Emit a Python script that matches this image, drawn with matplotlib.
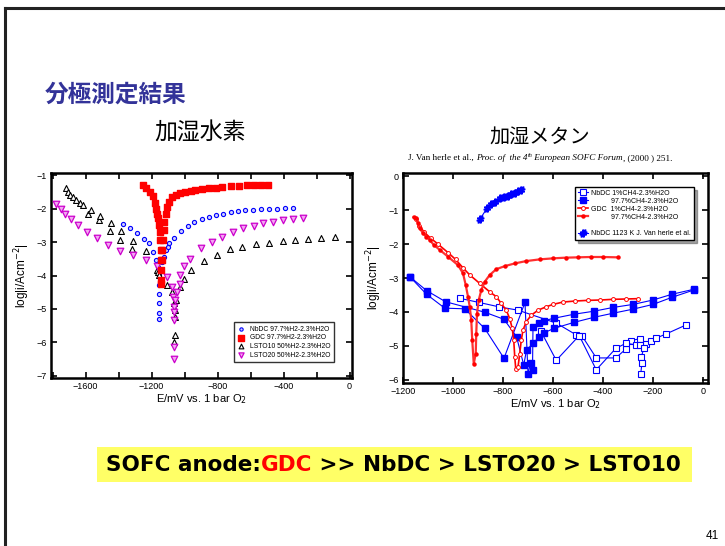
import matplotlib
matplotlib.use("Agg")
import matplotlib.pyplot as plt
from matplotlib.lines import Line2D
from matplotlib.patches import Rectangle
from matplotlib.ticker import MultipleLocator

plt.rcParams['font.family'] = ['Liberation Sans', 'DejaVu Sans']
JP = ['Noto Sans CJK JP', 'DejaVu Sans']

# ---- 加湿水素 (humidified H2) ----
nbdc_h2_x = [-1374, -1330, -1289, -1244, -1218, -1192, -1171, -1163, -1157, -1155, -1155, -1155,
             -1153, -1153, -1147, -1137, -1127, -1112, -1100, -1092, -1066, -1019, -978, -940, -897,
             -853, -808, -765, -721, -676, -631, -585, -534, -487, -441, -392, -345]
nbdc_h2_y = [-2.47, -2.59, -2.72, -2.91, -3.02, -3.29, -3.54, -3.74, -3.99, -4.29, -4.54, -4.83,
             -5.13, -5.31, -3.84, -3.59, -3.44, -3.24, -3.14, -3.04, -2.87, -2.66, -2.51, -2.39, -2.31,
             -2.25, -2.20, -2.15, -2.10, -2.08, -2.05, -2.03, -2.02, -2.01, -2.00, -1.99, -1.98]

gdc_h2_x = [-1255, -1232, -1212, -1192, -1181, -1173, -1167, -1161, -1157, -1151, -1147, -1145,
            -1143, -1143, -1143, -1145, -1139, -1137, -1131, -1127, -1123, -1115, -1106, -1096,
            -1076, -1050, -1025, -995, -964, -934, -893, -853, -812, -771, -721, -670, -619, -579,
            -538, -497]
gdc_h2_y = [-1.30, -1.38, -1.50, -1.63, -1.85, -2.00, -2.15, -2.29, -2.49, -2.69, -2.94, -3.24,
            -3.54, -3.84, -4.14, -4.24, -3.54, -3.24, -2.94, -2.64, -2.39, -2.15, -1.95, -1.80,
            -1.67, -1.60, -1.55, -1.52, -1.48, -1.45, -1.43, -1.40, -1.38, -1.36, -1.34, -1.32,
            -1.31, -1.30, -1.30, -1.30]

lsto10_x = [-1719, -1709, -1695, -1679, -1658, -1634, -1614, -1583, -1569, -1522, -1512, -1455,
            -1447, -1390, -1386, -1317, -1313, -1236, -1168, -1163, -1157, -1106, -1076, -1062,
            -1060, -1058, -1056, -1062, -1050, -1025, -1001, -961, -883, -802, -725, -650, -568,
            -487, -406, -329, -250, -173, -91]
lsto10_y = [-1.40, -1.50, -1.60, -1.65, -1.75, -1.85, -1.90, -2.15, -2.05, -2.34, -2.23, -2.66,
            -2.44, -2.94, -2.67, -3.22, -2.97, -3.26, -3.84, -3.89, -3.99, -4.29, -4.49, -4.83,
            -5.03, -5.23, -5.78, -5.98, -4.73, -4.33, -4.09, -3.84, -3.56, -3.39, -3.22, -3.14,
            -3.07, -3.02, -2.97, -2.94, -2.91, -2.89, -2.86]

lsto20_x = [-1777, -1752, -1726, -1691, -1644, -1594, -1529, -1462, -1390, -1310, -1234, -1168,
            -1106, -1076, -1070, -1066, -1066, -1066, -1066, -1062, -1056, -1046, -1029, -1025,
            -1005, -968, -903, -836, -771, -708, -644, -579, -522, -463, -402, -345, -284]
lsto20_y = [-1.87, -2.00, -2.15, -2.31, -2.49, -2.69, -2.89, -3.09, -3.26, -3.39, -3.54, -3.72,
            -4.04, -4.34, -4.64, -4.93, -5.33, -6.13, -6.50, -5.08, -4.73, -4.49, -4.24, -3.99,
            -3.72, -3.52, -3.19, -2.99, -2.84, -2.69, -2.59, -2.51, -2.44, -2.39, -2.34, -2.31,
            -2.27]

# ---- 加湿メタン (humidified CH4) ----
# NbDC 1%CH4, two sweeps
nbdc_ch4_a_x = [-973, -897, -817, -740, -587, -507, -483, -427, -349, -309, -290, -251, -229,
                -209, -189, -147, -69]
nbdc_ch4_a_y = [-3.60, -3.72, -3.85, -3.95, -4.33, -4.68, -4.72, -5.36, -5.36, -5.10, -4.85,
                -4.79, -4.95, -4.85, -4.78, -4.65, -4.39]
nbdc_ch4_b_x = [-650, -587, -495, -427, -349, -309, -269, -251, -237, -247, -244, -249]
nbdc_ch4_b_y = [-4.55, -5.43, -4.70, -5.71, -5.08, -4.93, -4.97, -4.97, -5.08, -5.34, -5.50, -5.82]

# NbDC 97.7%CH4, two sweeps
nbdc_97_a_x = [-1173, -1106, -1030, -873, -796, -746, -717, -706, -680, -656, -636, -597, -516,
               -436, -360, -280, -200, -124, -35]
nbdc_97_a_y = [-2.96, -3.37, -3.70, -4.01, -4.22, -4.73, -5.57, -5.13, -4.93, -4.75, -4.62, -4.49,
               -4.31, -4.16, -4.04, -3.92, -3.78, -3.57, -3.35]
nbdc_97_b_x = [-1173, -1106, -1033, -953, -873, -796, -712, -700, -690, -682, -680, -656, -636,
               -597, -516, -436, -360, -280, -200, -124, -35]
nbdc_97_b_y = [-2.96, -3.48, -3.89, -3.91, -4.49, -5.37, -3.72, -5.84, -5.50, -5.72, -4.44, -4.34,
               -4.26, -4.19, -4.07, -3.98, -3.87, -3.78, -3.65, -3.48, -3.33]

# GDC 1%CH4
gdc_ch4_x = [-1150, -1135, -1115, -1090, -1060, -1020, -990, -960, -933, -893, -853, -827, -807,
             -787, -773, -763, -757, -753, -749, -740, -733, -727, -720, -707, -687, -660, -627,
             -600, -560, -511, -460, -411, -360, -309, -260]
gdc_ch4_y = [-1.25, -1.45, -1.65, -1.82, -2.00, -2.25, -2.45, -2.70, -2.91, -3.16, -3.41, -3.55,
             -3.75, -3.95, -4.20, -4.49, -4.84, -5.33, -5.68, -5.63, -5.23, -4.84, -4.54, -4.29,
             -4.10, -3.95, -3.85, -3.78, -3.71, -3.68, -3.66, -3.65, -3.63, -3.62, -3.61]

# GDC 97.7%CH4
gdc_97_x = [-1158, -1147, -1140, -1133, -1120, -1107, -1093, -1077, -1053, -1020, -980, -960,
            -949, -940, -933, -927, -923, -917, -909, -907, -904, -897, -887, -873, -853, -827,
            -793, -753, -707, -653, -600, -550, -500, -450, -400, -340]
gdc_97_y = [-1.20, -1.23, -1.38, -1.53, -1.68, -1.78, -1.88, -2.02, -2.17, -2.37, -2.62, -2.86,
            -3.21, -3.55, -3.85, -4.24, -4.84, -5.53, -5.23, -4.64, -4.05, -3.65, -3.36, -3.11,
            -2.91, -2.74, -2.65, -2.57, -2.50, -2.45, -2.42, -2.40, -2.39, -2.38, -2.38, -2.39]

# NbDC 1123 K, literature
lit_x = [-891, -864, -847, -833, -811, -797, -780, -767, -753, -740, -727]
lit_y = [-1.25, -0.94, -0.81, -0.77, -0.64, -0.61, -0.57, -0.52, -0.49, -0.44, -0.39]

BLUE = '#0000ff'
RED = '#ff0000'
MAG = '#cc00cc'

fig = plt.figure(figsize=(7.25, 5.46), dpi=100)
renderer = fig.canvas.get_renderer()


def text_run(x0, y, pieces):
    """Write text pieces one after another, starting at x0 (pixels)."""
    x = x0
    for s, kw in pieces:
        t = fig.text(x / 725, y, s, va='baseline', ha='left', **kw)
        x = t.get_window_extent(renderer=renderer).x1
    return x


# slide frame (top and left edge)
fig.add_artist(Line2D([5 / 725, 1], [1 - 8 / 546] * 2, color='#222222', lw=2.2))
fig.add_artist(Line2D([5 / 725] * 2, [0, 1 - 8 / 546], color='#222222', lw=2.2))

fig.text(45 / 725, 1 - 95 / 546, '分極測定結果', family=JP, fontsize=17, weight='bold',
         color='#333399', va='center', ha='left')
fig.text(200 / 725, 1 - 133 / 546, '加湿水素', family=JP, fontsize=16.5, va='center', ha='center')
fig.text(540 / 725, 1 - 137 / 546, '加湿メタン', family=JP, fontsize=14.5, va='center', ha='center')

# reference line above the methane panel
serif = dict(family='Liberation Serif', fontsize=6.6)
serif_it = dict(family='Liberation Serif', fontsize=6.6, style='italic')
cy = 1 - 160 / 546
x = text_run(408, cy, [('J. Van herle et al., ', serif), ('Proc. of  the 4', serif_it)])
x = text_run(x, cy + 3 / 546, [('th', dict(serif_it, fontsize=4.4))])
text_run(x, cy, [(' European SOFC Forum', serif_it), (', (2000 ) 251.', serif)])


def style_axes(ax):
    for s in ax.spines.values():
        s.set_linewidth(1.8)
    ax.tick_params(which='both', direction='in', top=True, right=True, length=4, width=1.2,
                   labelsize=6.5, pad=3)


# left panel
ax1 = fig.add_axes([51 / 725, 1 - 378 / 546, 301 / 725, 205 / 546])
ax1.scatter(nbdc_h2_x, nbdc_h2_y, s=9, marker='o', facecolors='#ccccff', edgecolors=BLUE,
            linewidths=0.8, label='NbDC 97.7%H2-2.3%H2O', zorder=3)
ax1.scatter(gdc_h2_x, gdc_h2_y, s=22, marker='s', color=RED, label='GDC 97.7%H2-2.3%H2O', zorder=4)
ax1.scatter(lsto10_x, lsto10_y, s=18, marker='^', facecolors='white', edgecolors='black',
            linewidths=0.8, label='LSTO10 50%H2-2.3%H2O', zorder=3)
ax1.scatter(lsto20_x, lsto20_y, s=22, marker='v', facecolors='#f2a6f2', edgecolors=MAG,
            linewidths=0.9, label='LSTO20 50%H2-2.3%H2O', zorder=3)
ax1.set_xlim(-1810, 15)
ax1.set_ylim(-7.06, -0.94)
ax1.xaxis.set_major_locator(MultipleLocator(400))
ax1.xaxis.set_minor_locator(MultipleLocator(200))
ax1.yaxis.set_major_locator(MultipleLocator(1))
style_axes(ax1)
ax1.set_xlabel('E/mV vs. 1 bar O$_2$', fontsize=8, labelpad=1)
ax1.set_ylabel('log|i/Acm$^{-2}$|', fontsize=8.5, labelpad=3)
leg1 = ax1.legend(loc='lower right', bbox_to_anchor=(0.95, 0.06), fontsize=4.9, frameon=True,
                  fancybox=False, edgecolor='black', handletextpad=0.6, borderpad=0.5,
                  labelspacing=0.25, handlelength=1.2, markerscale=0.8)
leg1.get_frame().set_linewidth(1.0)

# right panel
ax2 = fig.add_axes([403 / 725, 1 - 383 / 546, 305 / 725, 210 / 546])
sq = dict(marker='s', color=BLUE, lw=0.8)
ax2.plot(nbdc_ch4_a_x, nbdc_ch4_a_y, mfc='white', mec=BLUE, ms=4.5, mew=0.8, **sq,
         label='NbDC 1%CH4-2.3%H2O')
ax2.plot(nbdc_ch4_b_x, nbdc_ch4_b_y, mfc='white', mec=BLUE, ms=4.5, mew=0.8, **sq)
ax2.plot(nbdc_97_a_x, nbdc_97_a_y, ms=5, **sq, label='          97.7%CH4-2.3%H2O')
ax2.plot(nbdc_97_b_x, nbdc_97_b_y, ms=5, **sq)
ax2.plot(gdc_ch4_x, gdc_ch4_y, color=RED, lw=1.2, marker='o', ms=2.8, mfc='white', mec=RED,
         mew=0.7, label='GDC  1%CH4-2.3%H2O')
ax2.plot(gdc_97_x, gdc_97_y, color='#ff3030', lw=1.6, marker='o', ms=2.2, mfc=RED, mec=RED,
         label='          97.7%CH4-2.3%H2O')
ax2.plot([], [], color='none', label=' ')
ax2.plot(lit_x, lit_y, color=BLUE, lw=0.8, marker=r'$\#$', ms=5, mec=BLUE,
         label='NbDC 1123 K J. Van herle et al.')
ax2.set_xlim(-1200, 20)
ax2.set_ylim(-6.1, 0.1)
ax2.xaxis.set_major_locator(MultipleLocator(200))
ax2.yaxis.set_major_locator(MultipleLocator(1))
style_axes(ax2)
ax2.set_xlabel('E/mV vs. 1 bar O$_2$', fontsize=8, labelpad=1)
ax2.set_ylabel('log|i/Acm$^{-2}$|', fontsize=8.5, labelpad=3)
leg2 = ax2.legend(loc='upper right', bbox_to_anchor=(0.965, 0.95), fontsize=5, frameon=True,
                  fancybox=False, edgecolor='black', handletextpad=0.4, borderpad=0.4,
                  labelspacing=0.15, handlelength=1.5, shadow=True)
leg2.get_frame().set_linewidth(1.0)

# conclusion banner
fig.add_artist(Rectangle((97 / 725, 1 - 482 / 546), 595 / 725, 35 / 546, transform=fig.transFigure,
                         facecolor='#ffff66', edgecolor='none'))
banner = dict(fontsize=15.5, weight='bold', family='DejaVu Sans')
text_run(106, 1 - 471 / 546, [('SOFC anode:', banner), ('GDC', dict(banner, color=RED)),
                              (' >> NbDC > LSTO20 > LSTO10', banner)])

fig.text(712 / 725, 1 - 536 / 546, '41', fontsize=8.5, ha='center', va='center')

fig.savefig('out.png', dpi=100)
